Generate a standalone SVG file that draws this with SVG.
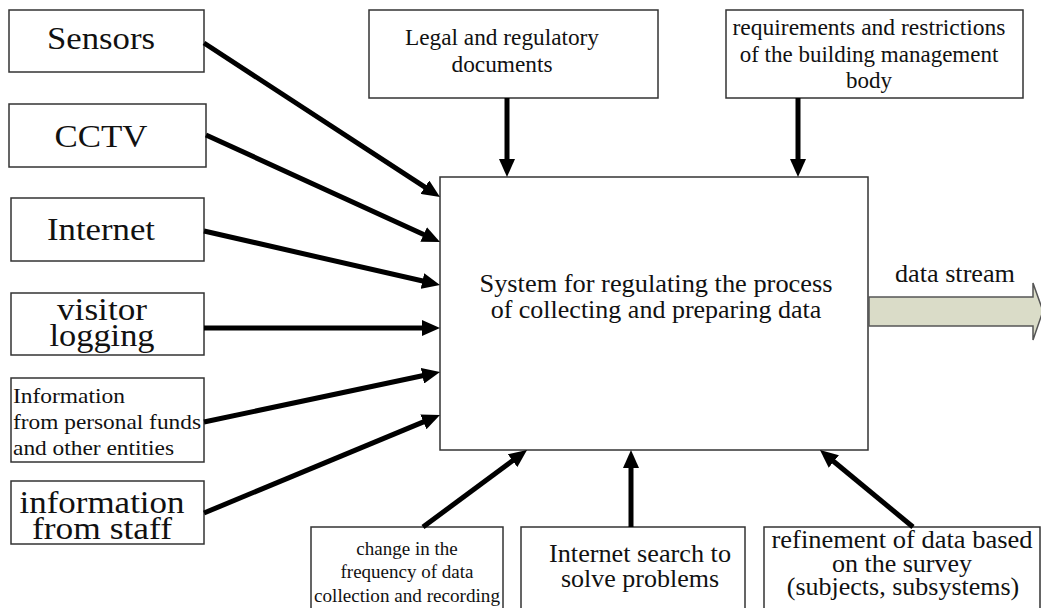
<svg xmlns="http://www.w3.org/2000/svg" width="1041" height="608" viewBox="0 0 1041 608">
<style>
.box{fill:#fff;stroke:#333;stroke-width:1.5}
text{font-family:'Liberation Serif','Times New Roman',serif;fill:#111}
.c{text-anchor:middle}
.big{font-size:32px}
.mid{font-size:26px}
.sm{font-size:23px}
.con{stroke:#000;stroke-width:5;fill:none;marker-end:url(#ah)}
</style>
<defs>
<marker id="ah" markerUnits="userSpaceOnUse" markerWidth="18" markerHeight="16" refX="6" refY="8" orient="auto">
<path d="M0,0 L18,8 L0,16 z" fill="#000"/>
</marker>
</defs>
<rect width="1041" height="608" fill="#fff"/>

<g id="sensors"><rect class="box" x="9" y="10" width="195" height="62"/><text class="c big" x="101" y="49" textLength="108" lengthAdjust="spacingAndGlyphs">Sensors</text></g>
<g id="cctv"><rect class="box" x="9" y="104" width="197" height="63"/><text class="c big" x="101" y="147" textLength="93" lengthAdjust="spacingAndGlyphs">CCTV</text></g>
<g id="internet"><rect class="box" x="11" y="198" width="193" height="63"/><text class="c big" x="101" y="240" textLength="108" lengthAdjust="spacingAndGlyphs">Internet</text></g>
<g id="visitor"><rect class="box" x="11" y="293" width="193" height="62"/><text class="c big" x="102" y="320" textLength="90" lengthAdjust="spacingAndGlyphs">visitor</text><text class="c big" x="102" y="346" textLength="105" lengthAdjust="spacingAndGlyphs">logging</text></g>
<g id="info"><rect class="box" x="11" y="378" width="193" height="84"/>
<text font-size="21" x="13" y="403" textLength="112" lengthAdjust="spacingAndGlyphs">Information</text>
<text font-size="21" x="13" y="429" textLength="188" lengthAdjust="spacingAndGlyphs">from personal funds</text>
<text font-size="21" x="13" y="455" textLength="161" lengthAdjust="spacingAndGlyphs">and other entities</text></g>
<g id="staff"><rect class="box" x="11" y="481" width="193" height="63"/><text class="c big" x="102" y="513" textLength="165" lengthAdjust="spacingAndGlyphs">information</text><text class="c big" x="102" y="539" textLength="140" lengthAdjust="spacingAndGlyphs">from staff</text></g>

<g id="legal"><rect class="box" x="369" y="10" width="289" height="88"/>
<text class="c sm" x="502" y="45" textLength="194" lengthAdjust="spacingAndGlyphs">Legal and regulatory</text>
<text class="c sm" x="502" y="72" textLength="101" lengthAdjust="spacingAndGlyphs">documents</text></g>
<g id="requirements"><rect class="box" x="726" y="10" width="297" height="88"/>
<text class="c sm" x="869" y="35" textLength="273" lengthAdjust="spacingAndGlyphs">requirements and restrictions</text>
<text class="c sm" x="869" y="62">of the building management</text>
<text class="c sm" x="869" y="88">body</text></g>

<g id="system"><rect class="box" x="440" y="177" width="428" height="273"/>
<text class="c mid" x="656" y="292" textLength="353" lengthAdjust="spacingAndGlyphs">System for regulating the process</text>
<text class="c mid" x="656" y="318">of collecting and preparing data</text></g>

<g id="datastream">
<polygon points="869,297 1033,297 1033,283 1043,311 1033,340 1033,326 869,326" fill="#dadcc8" stroke="#555" stroke-width="1.5"/>
<text class="mid" x="895" y="282" textLength="120" lengthAdjust="spacingAndGlyphs">data stream</text></g>

<g id="change"><rect class="box" x="311" y="527" width="192" height="95"/>
<text class="c" font-size="19" x="407" y="555">change in the</text>
<text class="c" font-size="19" x="407" y="578">frequency of data</text>
<text class="c" font-size="19" x="407" y="602" textLength="186" lengthAdjust="spacingAndGlyphs">collection and recording</text></g>
<g id="search"><rect class="box" x="521" y="527" width="224" height="95"/>
<text class="c mid" x="640" y="562" textLength="182" lengthAdjust="spacingAndGlyphs">Internet search to</text>
<text class="c mid" x="640" y="587">solve problems</text></g>
<g id="refinement"><rect class="box" x="764" y="527" width="276" height="95"/>
<text class="c mid" x="902" y="548" textLength="261" lengthAdjust="spacingAndGlyphs">refinement of data based</text>
<text class="c mid" x="902" y="572">on the survey</text>
<text class="c mid" x="903" y="595">(subjects, subsystems)</text></g>

<g id="connectors">
<line class="con" x1="204" y1="43" x2="429.9" y2="190.4"/>
<line class="con" x1="206" y1="135" x2="429.1" y2="237"/>
<line class="con" x1="204" y1="231" x2="428.3" y2="282.3"/>
<line class="con" x1="204" y1="328" x2="428" y2="328"/>
<line class="con" x1="204" y1="422" x2="428.3" y2="374.5"/>
<line class="con" x1="204" y1="513" x2="428.9" y2="419.6"/>
<line class="con" x1="507" y1="98" x2="507" y2="165"/>
<line class="con" x1="798" y1="98" x2="798" y2="165"/>
<line class="con" x1="423" y1="527" x2="517.4" y2="457.1"/>
<line class="con" x1="631" y1="527" x2="631" y2="462"/>
<line class="con" x1="913" y1="527" x2="829.2" y2="457.7"/>
</g>
</svg>
